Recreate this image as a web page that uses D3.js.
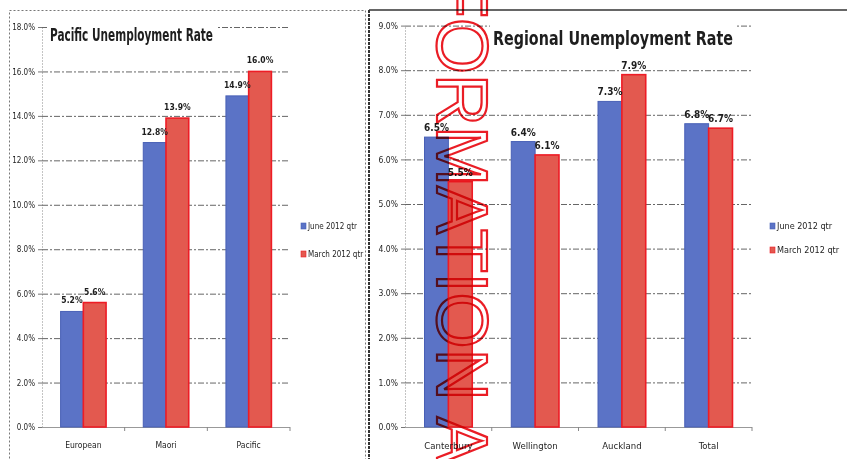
<!DOCTYPE html>
<html>
<head>
<meta charset="utf-8">
<script src="https://cdnjs.cloudflare.com/ajax/libs/d3/7.8.5/d3.min.js"></script>
<style>
  html, body { margin: 0; padding: 0; background: #fff; }
  #chart { width: 847px; height: 459px; }
  svg { display: block; }
  text { font-family: "Liberation Sans Narrow", "DejaVu Sans Condensed", "Liberation Sans", sans-serif; fill: #1e1e1e; }
</style>
</head>
<body>
<div id="chart"></div>
<script>
// Pacific / Regional unemployment, June vs March 2012 quarter

const seriesNames = ["June 2012 qtr", "March 2012 qtr"];

const pacCategories = ["European", "Maori", "Pacific"];
const pacJune = [5.2, 12.8, 14.9];
const pacMarch = [5.6, 13.9, 16.0];
const pacTicks = [0, 2, 4, 6, 8, 10, 12, 14, 16, 18];

const regCategories = ["Canterbury", "Wellington", "Auckland", "Total"];
const regJune = [6.5, 6.4, 7.3, 6.8];
const regMarch = [5.5, 6.1, 7.9, 6.7];
const regTicks = [0, 1, 2, 3, 4, 5, 6, 7, 8, 9];

const watermarkText = "INFORMATION ACT";

const colors = {
  blue: "#5b73c6", blueEdge: "#4860b6",
  red: "#e3594f", redEdge: "#ee1c25"
};

const svg = d3.select("#chart").append("svg")
  .attr("width", 847)
  .attr("height", 459);

// panel frames
svg.append("rect")
  .attr("x", 9.5).attr("y", 10.5)
  .attr("width", 356).attr("height", 460)
  .attr("fill", "none")
  .attr("stroke", "#777")
  .attr("stroke-dasharray", "2,2");

svg.append("line")
  .attr("x1", 369).attr("x2", 847).attr("y1", 10).attr("y2", 10)
  .attr("stroke", "#333").attr("stroke-width", 1.5);
svg.append("line")
  .attr("x1", 369).attr("x2", 369).attr("y1", 10).attr("y2", 459)
  .attr("stroke", "#333").attr("stroke-width", 2)
  .attr("stroke-dasharray", "3,1");

function drawPanel(o) {
  const g = svg.append("g");
  const y = d3.scaleLinear().domain(o.domain).range([427, o.top]);
  const x = d3.scaleBand().domain(o.categories)
    .range([o.left, o.right]).paddingInner(0.45).paddingOuter(0.225);
  const xs = d3.scaleBand().domain([0, 1]).range([0, x.bandwidth()]);
  const innerW = o.right - o.left;

  // y axis + gridlines
  const yAxis = g.append("g")
    .attr("transform", `translate(${o.left},0)`)
    .call(d3.axisLeft(y).tickValues(o.ticks)
      .tickFormat(d => d3.format(".1f")(d) + "%")
      .tickSizeInner(-innerW).tickSizeOuter(0).tickPadding(7));
  yAxis.select(".domain").attr("stroke", "#888").attr("stroke-dasharray", "1,2");
  yAxis.selectAll(".tick line")
    .attr("stroke", "#666").attr("stroke-dasharray", "6,2,2,2")
    .filter(d => d === 0).attr("stroke-dasharray", null).attr("stroke", "#999");
  yAxis.selectAll(".tick text").attr("font-size", o.tickFont).attr("fill", "#222");
  yAxis.selectAll(".tick").append("line")
    .attr("x1", -4).attr("x2", 0).attr("stroke", "#777");

  // title with white backing
  g.append("rect")
    .attr("x", o.titleX - 3).attr("y", o.titleY - o.titleSize)
    .attr("width", o.titleW + 6).attr("height", o.titleSize + 4)
    .attr("fill", "#fff");
  g.append("text")
    .attr("x", o.titleX).attr("y", o.titleY)
    .attr("font-size", o.titleSize).attr("font-weight", "bold")
    .attr("textLength", o.titleW).attr("lengthAdjust", "spacingAndGlyphs")
    .text(o.title);

  // x axis
  const xAxis = g.append("g")
    .attr("transform", "translate(0,427)")
    .call(d3.axisBottom(x).tickSize(0).tickPadding(15));
  xAxis.select(".domain").remove();
  xAxis.selectAll(".tick text").attr("font-size", o.catFont).attr("fill", "#222");
  g.selectAll(".xb").data(d3.range(1, o.categories.length + 1))
    .join("line")
    .attr("x1", i => o.left + i * x.step()).attr("x2", i => o.left + i * x.step())
    .attr("y1", 427).attr("y2", 431)
    .attr("stroke", "#888");

  // bars
  const rows = o.categories.map((c, i) => ({ c, v: [o.june[i], o.march[i]] }));
  const grp = g.selectAll(".grp").data(rows).join("g")
    .attr("transform", d => `translate(${x(d.c)},0)`);
  grp.selectAll("rect").data(d => d.v).join("rect")
    .attr("x", (d, i) => xs(i))
    .attr("y", d => y(d))
    .attr("width", xs.bandwidth())
    .attr("height", d => y(0) - y(d))
    .attr("fill", (d, i) => i === 0 ? colors.blue : colors.red)
    .attr("stroke", (d, i) => i === 0 ? colors.blueEdge : colors.redEdge)
    .attr("stroke-width", (d, i) => i === 0 ? 1 : 1.6);
  grp.selectAll("text").data(d => d.v).join("text")
    .attr("x", (d, i) => xs(i) + xs.bandwidth() / 2)
    .attr("y", d => y(d) - o.labelGap)
    .attr("text-anchor", "middle")
    .attr("font-size", o.labelFont)
    .attr("font-weight", "bold")
    .text(d => d3.format(".1f")(d) + "%");

  // legend
  const leg = g.selectAll(".leg").data(seriesNames).join("g")
    .attr("transform", (d, i) => `translate(${o.legX},${o.legY + i * o.legGap})`);
  leg.append("rect")
    .attr("x", 0).attr("y", -6).attr("width", 5).attr("height", 6)
    .attr("fill", (d, i) => i === 0 ? colors.blue : colors.red)
    .attr("stroke", (d, i) => i === 0 ? colors.blueEdge : colors.redEdge)
    .attr("stroke-width", 0.6);
  leg.append("text")
    .attr("x", 7).attr("y", 0)
    .attr("font-size", o.legFont)
    .text(d => d);
}

drawPanel({
  categories: pacCategories, june: pacJune, march: pacMarch, ticks: pacTicks,
  domain: [0, 18], top: 27, left: 42, right: 290,
  title: "Pacific Unemployment Rate", titleX: 50, titleY: 41, titleSize: 17, titleW: 163,
  tickFont: 8, catFont: 8.5, labelFont: 8.5, labelGap: 8,
  legX: 301, legY: 229, legGap: 28, legFont: 8
});

drawPanel({
  categories: regCategories, june: regJune, march: regMarch, ticks: regTicks,
  domain: [0, 9], top: 25.6, left: 405, right: 752,
  title: "Regional Unemployment Rate", titleX: 493, titleY: 45, titleSize: 20, titleW: 240,
  tickFont: 8.5, catFont: 9.5, labelFont: 10, labelGap: 6,
  legX: 770, legY: 229, legGap: 24, legFont: 9
});

// watermark (rotated outline text)
svg.append("text")
  .attr("transform", "translate(437,-98) rotate(90)")
  .style("font-family", "'Liberation Sans', Arial, sans-serif")
  .attr("font-size", 72)
  .attr("stroke", "#ea1d25")
  .attr("stroke-width", 2.2)
  .style("mix-blend-mode", "multiply")
  .style("fill", "none")
  .text(watermarkText);
</script>
</body>
</html>
